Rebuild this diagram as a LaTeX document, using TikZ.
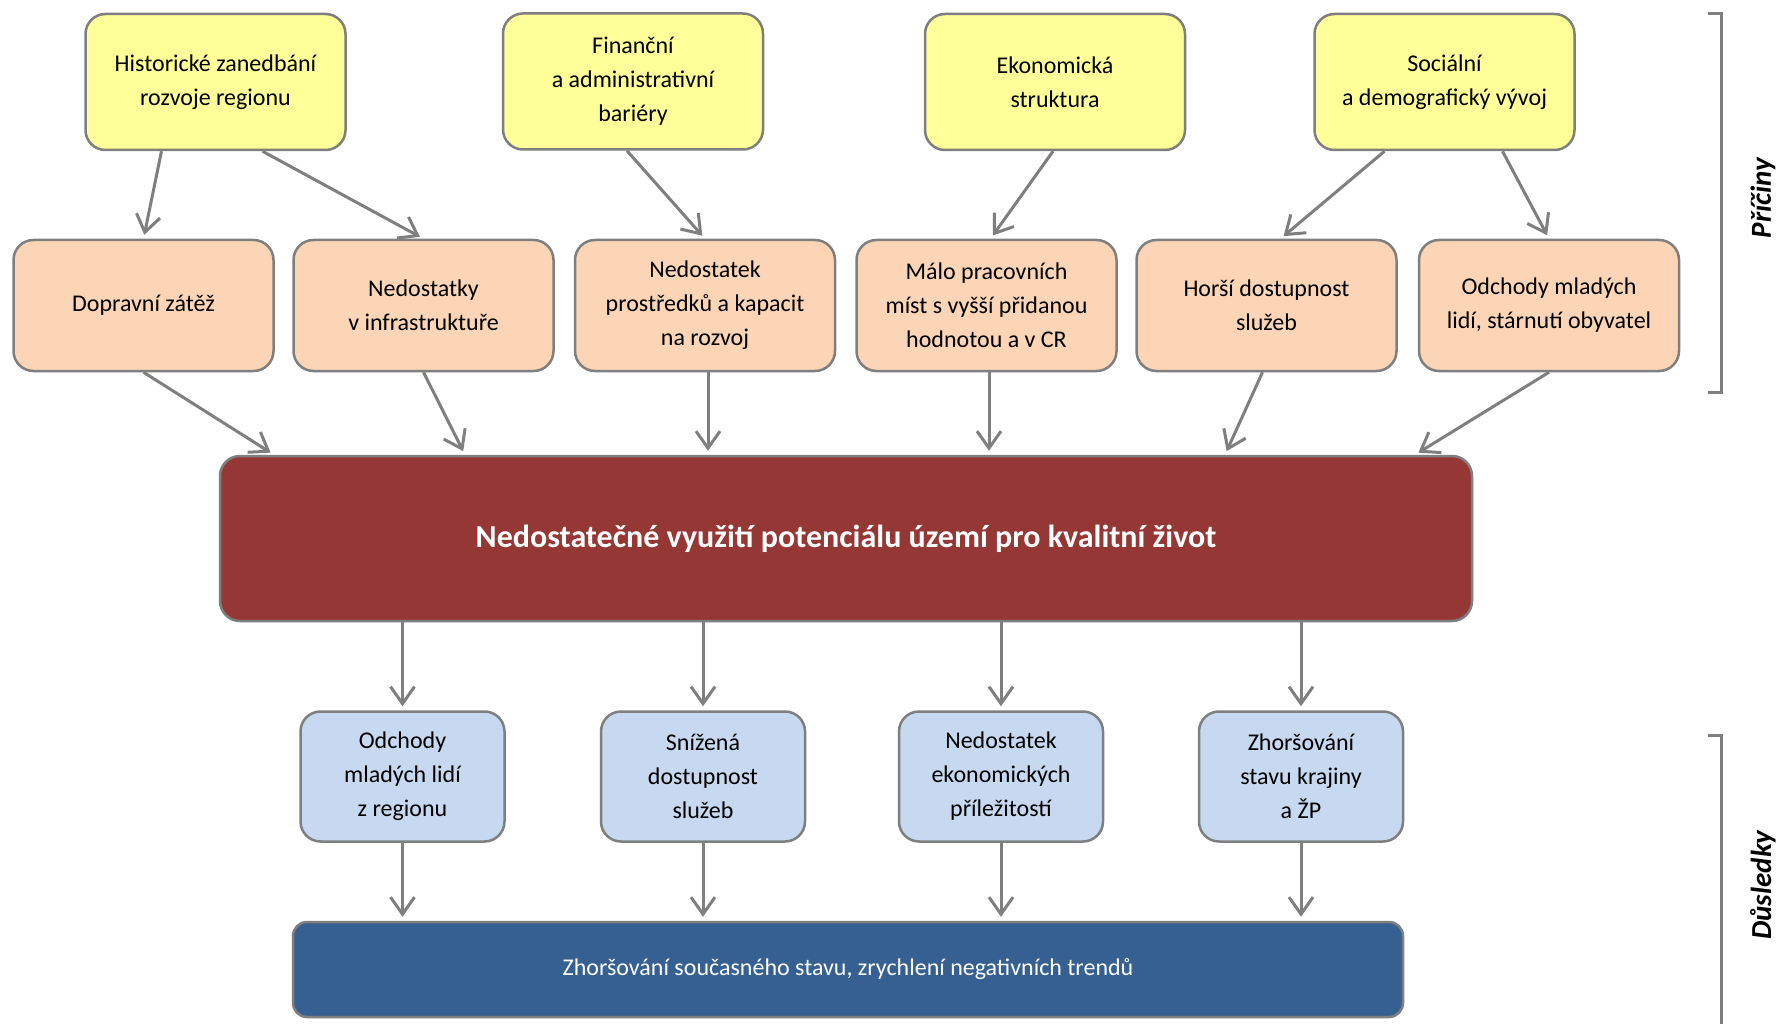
\documentclass[tikz,border=0pt]{standalone}
\usepackage{fontspec}
\setmainfont{Carlito}
\usetikzlibrary{arrows.meta,calc}
\definecolor{edgegrey}{HTML}{7F7F7F}
\definecolor{yel}{HTML}{FFFF99}
\definecolor{peach}{HTML}{FBD5B5}
\definecolor{mainred}{HTML}{953735}
\definecolor{lblue}{HTML}{C6D9F1}
\definecolor{dblue}{HTML}{376092}
\tikzset{
  box/.style={rectangle, rounded corners=20pt, draw=edgegrey, line width=2.5pt,
    align=center, font=\fontsize{24}{34}\selectfont, inner sep=0pt},
  ybox/.style={box, fill=yel, minimum width=260pt, minimum height=136pt},
  obox/.style={box, fill=peach, minimum width=260pt, minimum height=131pt},
  bbox/.style={box, fill=lblue, minimum width=204pt, minimum height=130pt},
  conn/.style={draw=edgegrey, line width=3pt, -{Straight Barb[length=17pt,width=24pt,line width=3pt]}, shorten >=4pt},
  brack/.style={draw=edgegrey, line width=3pt},
  side/.style={rotate=90, font=\fontsize{29}{34}\selectfont\bfseries\itshape}
}
\begin{document}
\begin{tikzpicture}[x=1pt,y=-1pt]
\useasboundingbox[fill=white] (0,0) rectangle (1778,1024);
% causes
\node[ybox] (Y1) at (215.5,82) {Historické zanedbání\\rozvoje regionu};
\node[ybox] (Y2) at (633,81.5) {Finanční\\a administrativní\\bariéry};
\node[ybox] (Y3) at (1055,82) {Ekonomická\\struktura};
\node[ybox] (Y4) at (1444.5,82) {Sociální\\a demografický vývoj};
\node[obox] (O1) at (143.5,305.5) {Dopravní zátěž};
\node[obox] (O2) at (423.5,305.5) {Nedostatky\\v infrastruktuře};
\node[obox] (O3) at (705,305.5) {Nedostatek\\prostředků a kapacit\\na rozvoj};
\node[obox] (O4) at (986.5,305.5) {Málo pracovních\\míst s vyšší přidanou\\hodnotou a v CR};
\node[obox] (O5) at (1266.5,305.5) {Horší dostupnost\\služeb};
\node[obox] (O6) at (1549,305.5) {Odchody mladých\\lidí, stárnutí obyvatel};
% main
\node[box, fill=mainred, text=white, minimum width=1252pt, minimum height=165pt,
  font=\fontsize{32}{38}\selectfont\bfseries] (M) at (846,538.5)
  {Nedostatečné využití potenciálu území pro kvalitní život};
% consequences
\node[bbox] (B1) at (402.5,776.5) {Odchody\\mladých lidí\\z regionu};
\node[bbox] (B2) at (703,776.5) {Snížená\\dostupnost\\služeb};
\node[bbox] (B3) at (1001,776.5) {Nedostatek\\ekonomických\\příležitostí};
\node[bbox] (B4) at (1301,776.5) {Zhoršování\\stavu krajiny\\a ŽP};
\node[box, fill=dblue, text=white, minimum width=1110pt, minimum height=95pt,
  font=\fontsize{24}{30}\selectfont, rounded corners=14pt] (Z) at (848,969.5)
  {Zhoršování současného stavu, zrychlení negativních trendů};
% connectors causes
\draw[conn] ([xshift=-54pt]Y1.south) -- (O1.north);
\draw[conn] ([xshift=47pt]Y1.south) -- (O2.north);
\draw[conn] ([xshift=-6pt]Y2.south) -- (O3.north);
\draw[conn] ([xshift=-2pt]Y3.south) -- ([xshift=4pt]O4.north);
\draw[conn] ([xshift=-60pt]Y4.south) -- ([xshift=14pt]O5.north);
\draw[conn] ([xshift=58pt]Y4.south) -- (O6.north);
\draw[conn] (O1.south) -- ([xshift=-572pt]M.north);
\draw[conn] (O2.south) -- ([xshift=-381pt]M.north);
\draw[conn] ([xshift=3pt]O3.south) -- ([xshift=3pt]O3.south |- M.north);
\draw[conn] ([xshift=2.5pt]O4.south) -- ([xshift=2.5pt]O4.south |- M.north);
\draw[conn] ([xshift=-4pt]O5.south) -- ([xshift=379pt]M.north);
\draw[conn] (O6.south) -- ([xshift=569pt]M.north);
% connectors consequences
\foreach \b in {B1,B2,B3,B4}{
  \draw[conn] (\b.north |- M.south) -- (\b.north);
  \draw[conn] (\b.south) -- (\b.south |- Z.north);
}
% brackets
\coordinate (p1) at (1708,14);
\coordinate (p2) at (1721,14);
\coordinate (p3) at (1721,392);
\coordinate (p4) at (1708,392);
\draw[brack] (p1) -- (p2) -- (p3) -- (p4);
\coordinate (q1) at (1708,735);
\coordinate (q2) at (1721,735);
\coordinate (q3) at (1721,1026);
\draw[brack] (q1) -- (q2) -- (q3);
\node[side] (L1) at (1763,198) {Příčiny};
\node[side] (L2) at (1763,885) {Důsledky};
\end{tikzpicture}
\end{document}
